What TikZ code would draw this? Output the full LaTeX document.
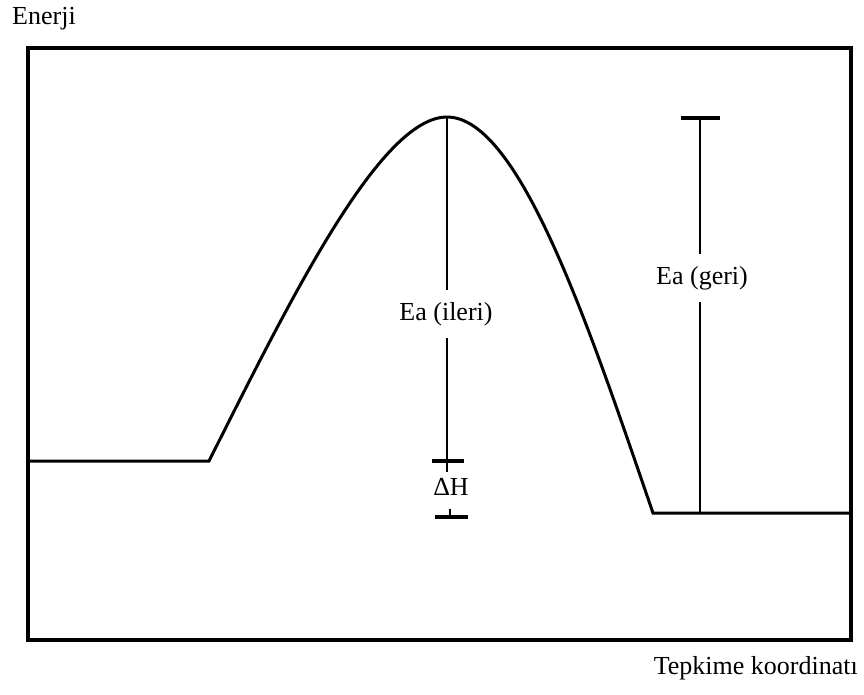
\documentclass[tikz,border=0pt]{standalone}
\usepackage{fontspec}
\setmainfont{Liberation Serif}
\begin{document}
\begin{tikzpicture}[x=1pt,y=-1pt,
  frame/.style={line width=3.2pt},
  curve/.style={line width=3pt,line join=miter},
  vline/.style={line width=1.6pt},
  capline/.style={line width=3.2pt},
  lbl/.style={font=\fontsize{26}{30}\selectfont,inner sep=0pt},
  gaplbl/.style={lbl,inner xsep=2pt,inner ysep=12pt}]
\useasboundingbox (0,0) rectangle (864,694);
% frame
\draw[frame] (28,48) rectangle (851,640);
% energy profile
\coordinate (rL) at (28,461);
\coordinate (rR) at (209,461);
\coordinate (peak) at (447,117);
\coordinate (pL) at (653,513);
\coordinate (pR) at (851,513);
\draw[curve] (rL) -- (rR) .. controls (290,300) and (380,117) .. (peak)
  .. controls (520,117) and (590,330) .. (pL) -- (pR);
% Ea (ileri)
\node[gaplbl,anchor=base] (ileri) at (446,320) {Ea (ileri)};
\coordinate (vEnd) at (447,472);
\draw[vline] (peak) -- (ileri.north -| peak);
\draw[vline] (ileri.south -| peak) -- (vEnd);
\coordinate (capAl) at (432,461);
\coordinate (capAr) at (464,461);
\draw[capline] (capAl) -- (capAr);
% Delta H
\node[lbl,anchor=base] (dh) at (451,495) {ΔH};
\coordinate (capBl) at (435,517);
\coordinate (capBr) at (468,517);
\coordinate (tickB) at (450,517);
\coordinate (tickT) at (450,509);
\draw[capline] (capBl) -- (capBr);
\draw[vline] (tickB) -- (tickT);
% Ea (geri)
\coordinate (gTop) at (700,118);
\coordinate (gBot) at (700,513);
\coordinate (gCapL) at (681,118);
\coordinate (gCapR) at (720,118);
\draw[capline] (gCapL) -- (gCapR);
\node[gaplbl,anchor=base] (geri) at (702,284) {Ea (geri)};
\draw[vline] (gTop) -- (geri.north -| gTop);
\draw[vline] (geri.south -| gTop) -- (gBot);
% axis labels
\node[lbl,anchor=base west] (enerji) at (12,24) {Enerji};
\node[lbl,anchor=base east] (tepkime) at (858,674) {Tepkime koordinatı};
\end{tikzpicture}
\end{document}
